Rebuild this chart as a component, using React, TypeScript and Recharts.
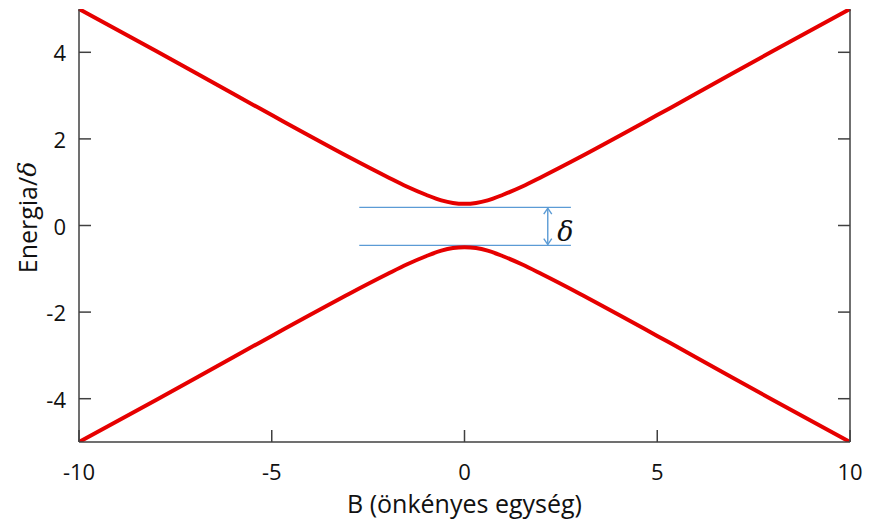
import { LineChart, Line, XAxis, YAxis, ReferenceLine, ReferenceDot } from 'recharts';

// magnetic field values and the two energy branches (in units of delta)
const fieldB = [-10, -8, -6, -5, -4, -3, -2, -1.5, -1, -0.6, -0.3, 0, 0.3, 0.6, 1, 1.5, 2, 3, 4, 5, 6, 8, 10];
const upperE = [5.0, 4.03, 3.04, 2.55, 2.06, 1.58, 1.12, 0.9, 0.71, 0.58, 0.52, 0.5, 0.52, 0.58, 0.71, 0.9, 1.12, 1.58, 2.06, 2.55, 3.04, 4.03, 5.0];
const lowerE = [-5.0, -4.03, -3.04, -2.55, -2.06, -1.58, -1.12, -0.9, -0.71, -0.58, -0.52, -0.5, -0.52, -0.58, -0.71, -0.9, -1.12, -1.58, -2.06, -2.55, -3.04, -4.03, -5.0];

const xTicks = [-10, -5, 0, 5, 10];
const yTicks = [-4, -2, 0, 2, 4];

// gap marker: two horizontal guides and a double arrow between them
const gapTop = 0.42;
const gapBottom = -0.46;
const gapFrom = -2.73;
const gapTo = 2.76;
const arrowB = 2.16;

const data = fieldB.map((b, i) => ({ B: b, up: upperE[i], down: lowerE[i] }));

const FONT = '"Open Sans", "Noto Sans", sans-serif';
const FRAME = '#404040';
const BLUE = '#5b9bd5';
const TICK_LEN = 12;

const BottomTick = (props: any) => {
  const { x, y, payload } = props;
  return (
    <g>
      <line x1={x} y1={y} x2={x} y2={y - TICK_LEN} stroke={FRAME} strokeWidth={1.5} />
      <text x={x} y={y + 29} textAnchor="middle" dominantBaseline="central" fontSize={22} fill="#111" fontFamily={FONT}>
        {payload.value}
      </text>
    </g>
  );
};

const TopTick = (props: any) => {
  const { x, y } = props;
  return <line x1={x} y1={y} x2={x} y2={y + TICK_LEN} stroke={FRAME} strokeWidth={1.5} />;
};

const LeftTick = (props: any) => {
  const { x, y, payload } = props;
  return (
    <g>
      <line x1={x} y1={y} x2={x + TICK_LEN} y2={y} stroke={FRAME} strokeWidth={1.5} />
      <text x={x - 13} y={y} textAnchor="end" dominantBaseline="central" fontSize={22} fill="#111" fontFamily={FONT}>
        {payload.value}
      </text>
    </g>
  );
};

const RightTick = (props: any) => {
  const { x, y } = props;
  return <line x1={x} y1={y} x2={x - TICK_LEN} y2={y} stroke={FRAME} strokeWidth={1.5} />;
};

const DoubleArrow = (props: any) => {
  const { x1, y1, x2, y2 } = props;
  const top = Math.min(y1, y2);
  const bot = Math.max(y1, y2);
  return (
    <g stroke={BLUE} strokeWidth={1.4} fill="none">
      <line x1={x1} y1={top} x2={x2} y2={bot} />
      <polyline points={`${x1 - 4},${top + 6} ${x1},${top} ${x1 + 4},${top + 6}`} />
      <polyline points={`${x1 - 4},${bot - 6} ${x1},${bot} ${x1 + 4},${bot - 6}`} />
    </g>
  );
};

const YTitle = (props: any) => {
  const { viewBox } = props;
  const cx = 27;
  const cy = viewBox.y + viewBox.height / 2 - 8;
  return (
    <text x={cx} y={cy} transform={`rotate(-90 ${cx} ${cy})`} textAnchor="middle" dominantBaseline="central" fontSize={25} fill="#111" fontFamily={FONT}>
      Energia/<tspan fontStyle="italic" fontFamily='"DejaVu Serif", serif'>δ</tspan>
    </text>
  );
};

const XTitle = (props: any) => {
  const { viewBox } = props;
  const cx = viewBox.x + viewBox.width / 2;
  return (
    <text x={cx} y={503} textAnchor="middle" dominantBaseline="central" fontSize={25} fill="#111" fontFamily={FONT}>
      B (önkényes egység)
    </text>
  );
};

export default function App() {
  return (
    <div style={{ position: 'absolute', left: 0, top: 0, width: 869, height: 525, background: '#fff' }}>
      <LineChart width={869} height={525} data={data} margin={{ top: 9, right: 0, left: 0, bottom: 0 }}>
        <XAxis
          dataKey="B"
          type="number"
          domain={[-10, 10]}
          ticks={xTicks}
          height={83}
          axisLine={{ stroke: FRAME, strokeWidth: 1.5 }}
          tickLine={false}
          tickSize={0}
          tickMargin={0}
          tick={<BottomTick />}
          interval={0}
          label={<XTitle />}
        />
        <XAxis
          xAxisId="top"
          dataKey="B"
          type="number"
          orientation="top"
          domain={[-10, 10]}
          ticks={xTicks}
          height={0}
          axisLine={{ stroke: FRAME, strokeWidth: 1.5 }}
          tickLine={false}
          tickSize={0}
          tickMargin={0}
          tick={<TopTick />}
          interval={0}
        />
        <YAxis
          type="number"
          domain={[-5, 5]}
          ticks={yTicks}
          width={79}
          allowDataOverflow
          axisLine={{ stroke: FRAME, strokeWidth: 1.5 }}
          tickLine={false}
          tickSize={0}
          tickMargin={0}
          tick={<LeftTick />}
          interval={0}
          label={<YTitle />}
        />
        <YAxis
          yAxisId="right"
          type="number"
          orientation="right"
          domain={[-5, 5]}
          ticks={yTicks}
          width={19}
          allowDataOverflow
          axisLine={{ stroke: FRAME, strokeWidth: 1.5 }}
          tickLine={false}
          tickSize={0}
          tickMargin={0}
          tick={<RightTick />}
          interval={0}
        />
        <ReferenceLine segment={[{ x: gapFrom, y: gapTop }, { x: gapTo, y: gapTop }]} stroke={BLUE} strokeWidth={1.2} />
        <ReferenceLine segment={[{ x: gapFrom, y: gapBottom }, { x: gapTo, y: gapBottom }]} stroke={BLUE} strokeWidth={1.2} />
        <ReferenceLine segment={[{ x: arrowB, y: gapTop - 0.02 }, { x: arrowB, y: gapBottom + 0.02 }]} shape={<DoubleArrow />} />
        <ReferenceDot
          x={2.62}
          y={-0.13}
          r={0}
          fill="none"
          stroke="none"
          label={{ value: 'δ', position: 'center', fontSize: 27, fontStyle: 'italic', fill: '#111', fontFamily: '"DejaVu Serif", serif' }}
        />
        <Line type="monotone" dataKey="up" stroke="#e60000" strokeWidth={4} dot={false} isAnimationActive={false} />
        <Line type="monotone" dataKey="down" stroke="#e60000" strokeWidth={4} dot={false} isAnimationActive={false} />
      </LineChart>
    </div>
  );
}
